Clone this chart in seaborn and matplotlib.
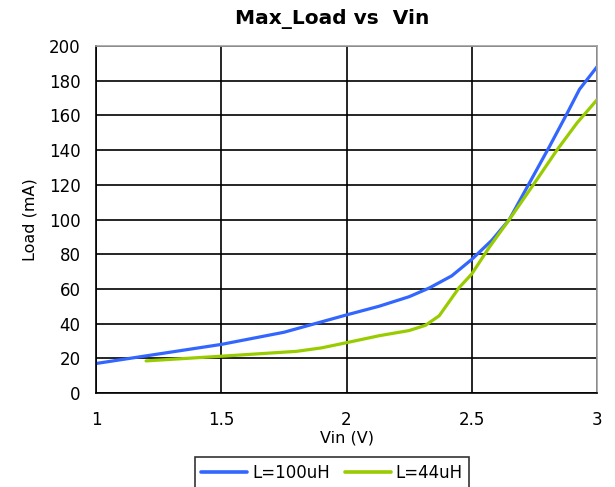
import numpy as np
import pandas as pd
import matplotlib
matplotlib.use("Agg")
import matplotlib.pyplot as plt
import seaborn as sns
from matplotlib.lines import Line2D

# Data
vin_100 = [1.0, 1.25, 1.5, 1.75, 1.9, 2.0, 2.13, 2.25, 2.33, 2.42, 2.5, 2.58, 2.65, 2.73, 2.81, 2.88, 2.93, 3.0]
load_100 = [17, 22.5, 28, 35, 41, 45, 50, 55.5, 60.5, 67.5, 77, 88, 100, 121, 142, 161, 175, 188]
vin_44 = [1.2, 1.5, 1.8, 1.9, 2.0, 2.13, 2.25, 2.315, 2.37, 2.45, 2.5, 2.57, 2.65, 2.76, 2.84, 2.92, 3.0]
load_44 = [18.5, 21.2, 24, 26, 29, 33, 36, 39, 44.5, 60.8, 68.6, 84, 100, 123, 140, 155.6, 169]
series_names = ["L=100uH", "L=44uH"]
colors = ["#3366FF", "#99CC00"]
x_ticks = [1, 1.5, 2, 2.5, 3]
x_tick_labels = ["1", "1.5", "2", "2.5", "3"]
y_ticks = list(range(0, 201, 20))

df = pd.concat([
    pd.DataFrame({"Vin": vin_100, "Load": load_100, "series": series_names[0]}),
    pd.DataFrame({"Vin": vin_44, "Load": load_44, "series": series_names[1]}),
])

sns.set_style("white")
plt.rcParams["font.family"] = ["DejaVu Sans"]
plt.rcParams["text.color"] = "black"
plt.rcParams["axes.labelcolor"] = "black"
plt.rcParams["xtick.color"] = "black"
plt.rcParams["ytick.color"] = "black"

fig = plt.figure(figsize=(6.15, 4.87), dpi=100)
ax = fig.add_axes([96/615, 1-393/487, (597-96)/615, (393-46)/487])

sns.lineplot(data=df, x="Vin", y="Load", hue="series", palette=colors,
             linewidth=2.3, ax=ax, legend=False, sort=True)

ax.set_xlim(1, 3)
ax.set_ylim(0, 200)
ax.set_xticks(x_ticks)
ax.set_xticklabels(x_tick_labels)
ax.set_yticks(y_ticks)
ax.grid(True, color="black", linewidth=1.2)
ax.set_axisbelow(True)
for s in ["left", "bottom"]:
    ax.spines[s].set_color("black")
    ax.spines[s].set_linewidth(1.2)
for s in ["right", "top"]:
    ax.spines[s].set_color("#a0a0a0")
    ax.spines[s].set_linewidth(1.2)
ax.tick_params(axis="both", direction="out", length=4, width=1, colors="black",
               labelsize=12)
ax.tick_params(axis="y", pad=7)
ax.tick_params(axis="x", pad=9)
ax.set_xlabel("Vin (V)", fontsize=11.5, labelpad=1)
ax.set_ylabel("Load (mA)", fontsize=11.5, labelpad=8)
fig.text(332/615, 1-19/487, "Max_Load vs  Vin", ha="center", va="center",
         fontsize=14.5, fontweight="bold")

handles = [Line2D([], [], color=c, linewidth=2.6) for c in colors]
leg = fig.legend(handles, series_names, loc="upper center",
                 bbox_to_anchor=(332/615, 1-457/487), ncol=2, frameon=True,
                 fancybox=False, edgecolor="black", fontsize=12,
                 handlelength=2.75, columnspacing=0.9, handletextpad=0.3,
                 borderpad=0.4, borderaxespad=0)
leg.get_frame().set_linewidth(1.2)

fig.savefig("out.png", dpi=100)
